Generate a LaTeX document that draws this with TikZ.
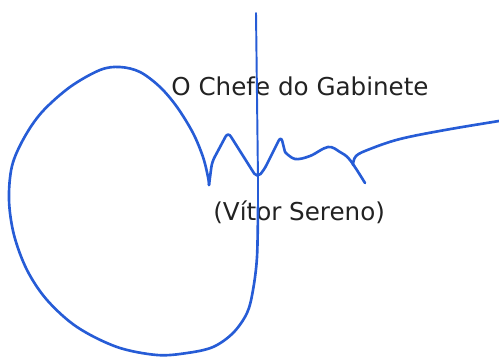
\documentclass[tikz,border=0pt]{standalone}
\usepackage{fontspec}
\setmainfont{DejaVu Sans}
\usepackage{tikz}
\definecolor{inkblue}{RGB}{38,92,214}
\definecolor{printgray}{RGB}{34,34,34}
\tikzset{sigline/.style={inkblue, line width=1.5pt, line cap=round, line join=round}}
\tikzset{printtext/.style={printgray, inner sep=0pt, anchor=base west, font=\fontsize{14}{16}\selectfont}}

\begin{document}
\begin{tikzpicture}[x=0.02cm, y=-0.02cm]
    % Fix the page size
    \useasboundingbox (0,0) rectangle (499,356);
    
    % Printed texts
    \node[printtext] (title) at (171,95) {O Chefe do Gabinete};
    \node[printtext] (name) at (213,220) {(Vítor Sereno)};
    
    % Vertical stroke
    \draw[sigline, line width=1.1pt] (256,13) -- (258,180) -- (258,240);
    
    % Big loop
    \draw[sigline] plot[smooth, tension=0.55] coordinates {
        (258,207) (257,257) (253,290) (247,313) (233,333) (213,347)
        (187,353) (157,355) (117,347) (77,327) (47,300) (27,270)
        (14,235) (9,200) (12,166) (24,138) (42,112) (70,87)
        (100,70) (120,67) (140,72) (160,87) (177,107) (193,133)
        (203,157) (208,177) (209,185)};
    
    % Zigzag
    \draw[sigline, rounded corners=3] (209,185) -- (212,162) -- (228,132)
        -- (257,178) -- (264,170) -- (281,136) -- (285,152);
    \draw[sigline] plot[smooth, tension=0.6] coordinates {
        (285,152) (295,159) (310,156) (328,147) (340,152) (350,160) (365,183)};
    
    % Tail to the right
    \draw[sigline] plot[smooth, tension=0.6] coordinates {
        (353,165) (356,156) (370,149) (400,139) (445,130) (499,121)};
    
\end{tikzpicture}
\end{document}
